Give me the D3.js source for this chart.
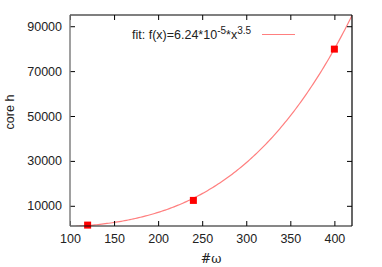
<!DOCTYPE html>
<html>
<head>
<meta charset="utf-8">
<script src="https://cdn.jsdelivr.net/npm/d3@7"></script>
<style>
  body { margin: 0; background: #fff; }
  svg { display: block; font-family: "Liberation Sans", Arial, sans-serif; }
</style>
</head>
<body>
<div id="chart"></div>
<script>
// measured points (#omega vs core hours)
const omegas = [120, 240, 400];
const coreHours = [1400, 12400, 79800];
// fit parameters f(x) = a * x^b
const fitA = 6.24e-5;
const fitB = 3.5;
const xTicks = [100, 150, 200, 250, 300, 350, 400];
const yTicks = [10000, 30000, 50000, 70000, 90000];

const width = 382, height = 267;
const margin = { left: 70, top: 15, right: 30, bottom: 41 };
const plotW = width - margin.left - margin.right;
const plotH = height - margin.top - margin.bottom;

const x = d3.scaleLinear().domain([100, 420]).range([margin.left, margin.left + plotW]);
const y = d3.scaleLinear().domain([1000, 95000]).range([margin.top + plotH, margin.top]);

const svg = d3.select("#chart").append("svg")
    .attr("width", width)
    .attr("height", height);

// clip for the fit curve
svg.append("clipPath").attr("id", "clip")
  .append("rect")
    .attr("x", margin.left).attr("y", margin.top)
    .attr("width", plotW).attr("height", plotH);

// fit curve, sampled over x range
const fitX = d3.range(100, 420.5, 2);
const line = d3.line()
    .x(d => x(d))
    .y(d => y(fitA * Math.pow(d, fitB)));

svg.append("path")
    .datum(fitX)
    .attr("clip-path", "url(#clip)")
    .attr("fill", "none")
    .attr("stroke", "#ff7f7f")
    .attr("stroke-width", 1.2)
    .attr("d", line);

// data points
svg.selectAll("rect.pt")
  .data(omegas)
  .enter().append("rect")
    .attr("class", "pt")
    .attr("x", (d) => x(d) - 3.5)
    .attr("y", (d, i) => y(coreHours[i]) - 3.5)
    .attr("width", 7)
    .attr("height", 7)
    .attr("fill", "#ff0000");

// axes (ticks mirrored on all sides, pointing inward)
const tickLen = 5;
const fmt = d3.format("d");
svg.append("g")
    .attr("transform", `translate(0,${margin.top + plotH})`)
    .call(d3.axisBottom(x).tickValues(xTicks).tickFormat(fmt).tickSizeInner(-tickLen).tickSizeOuter(0).tickPadding(8))
    .call(g => g.select(".domain").remove());
svg.append("g")
    .attr("transform", `translate(0,${margin.top})`)
    .call(d3.axisTop(x).tickValues(xTicks).tickSizeInner(-tickLen).tickSizeOuter(0).tickFormat(""))
    .call(g => g.select(".domain").remove());
svg.append("g")
    .attr("transform", `translate(${margin.left},0)`)
    .call(d3.axisLeft(y).tickValues(yTicks).tickFormat(fmt).tickSizeInner(-tickLen).tickSizeOuter(0).tickPadding(8))
    .call(g => g.select(".domain").remove());
svg.append("g")
    .attr("transform", `translate(${margin.left + plotW},0)`)
    .call(d3.axisRight(y).tickValues(yTicks).tickSizeInner(-tickLen).tickSizeOuter(0).tickFormat(""))
    .call(g => g.select(".domain").remove());

svg.selectAll(".tick text")
    .attr("font-size", 12.5)
    .attr("font-family", "Liberation Sans, Arial, sans-serif")
    .attr("fill", "#222");
svg.selectAll(".tick line").attr("stroke", "#000");

// frame
const x0 = margin.left, x1 = margin.left + plotW, y0 = margin.top, y1 = margin.top + plotH;
svg.append("line").attr("x1", x0).attr("x2", x1).attr("y1", y0).attr("y2", y0).attr("stroke", "#000").attr("stroke-width", 1.2);
svg.append("line").attr("x1", x1).attr("x2", x1).attr("y1", y0).attr("y2", y1).attr("stroke", "#000").attr("stroke-width", 1.2);
svg.append("line").attr("x1", x0).attr("x2", x1).attr("y1", y1).attr("y2", y1).attr("stroke", "#111").attr("stroke-width", 1.2);
svg.append("line").attr("x1", x0).attr("x2", x0).attr("y1", y0).attr("y2", y1).attr("stroke", "#808080").attr("stroke-width", 1.5);

// axis labels
svg.append("text")
    .attr("transform", "translate(14,112) rotate(-90)")
    .attr("text-anchor", "middle")
    .attr("font-size", 12.5)
    .attr("fill", "#222")
    .text("core h");

svg.append("text")
    .attr("x", 211)
    .attr("y", 263)
    .attr("text-anchor", "middle")
    .attr("font-size", 12.5)
    .attr("font-family", "DejaVu Serif, serif")
    .attr("fill", "#222")
    .text("#ω");

// legend
const leg = svg.append("text")
    .attr("x", 132)
    .attr("y", 39)
    .attr("font-size", 12.5)
    .attr("fill", "#222");
leg.append("tspan").text("fit: f(x)=6.24*10");
leg.append("tspan").attr("dy", -5).attr("font-size", 10).text("-5");
leg.append("tspan").attr("dy", 5).text("*x");
leg.append("tspan").attr("dy", -5).attr("font-size", 10).text("3.5");

svg.append("line")
    .attr("x1", 262).attr("x2", 295)
    .attr("y1", 34.5).attr("y2", 34.5)
    .attr("stroke", "#ff7f7f")
    .attr("stroke-width", 1.2);
</script>
</body>
</html>
